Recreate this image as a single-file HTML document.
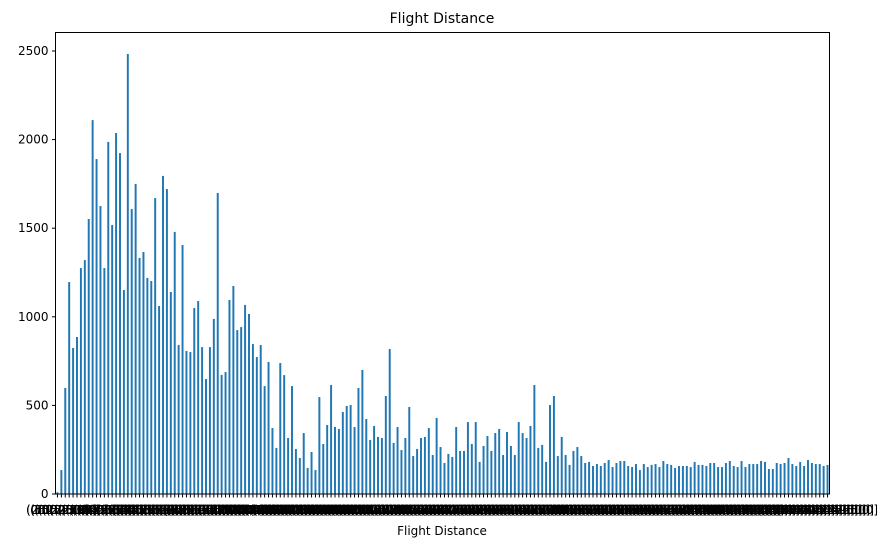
<!DOCTYPE html>
<html><head><meta charset="utf-8"><style>
body{margin:0;background:#fff;font-family:"Liberation Sans","DejaVu Sans",sans-serif}
svg text{font-family:"DejaVu Sans","Liberation Sans",sans-serif}
</style></head><body>
<svg id="chart" width="882" height="547" xmlns="http://www.w3.org/2000/svg">
<rect width="882" height="547" fill="#fff"/>
<text x="442" y="23" font-size="14" text-anchor="middle" fill="#000">Flight Distance</text>
<text x="442" y="535" font-size="12" text-anchor="middle" fill="#000">Flight Distance</text>
<g id="bars"></g><g id="xt"></g><g id="yt"></g>
<rect x="55.5" y="32.5" width="774" height="461.5" fill="none" stroke="#000" stroke-width="1"/>
</svg>
<script>
const values = [10,135,598,1196,824,886,1275,1320,1552,2110,1890,1625,1275,1987,1518,2037,1924,1151,2483,1608,1750,1332,1366,1219,1202,1670,1061,1795,1721,1140,1479,841,1405,807,801,1050,1089,829,649,829,988,1699,672,688,1095,1174,925,942,1067,1016,
846,773,841,609,745,372,260,739,671,316,609,254,203,344,147,237,135,547,282,389,615,378,367,463,497,502,378,598,700,423,305,384,322,316,553,818,288,378,248,316,491,214,254,316,322,372,220,429,265,
175,226,209,378,243,243,406,282,406,181,271,327,243,344,367,220,350,271,220,406,344,316,384,615,260,277,181,502,553,214,322,220,164,243,265,214,175,181,158,169,158,175,192,152,175,186,186,158,
152,169,135,169,152,164,169,152,186,169,164,147,158,158,158,152,181,164,164,158,175,175,152,152,175,186,158,152,186,152,169,169,169,186,181,141,141,175,169,175,203,169,158,181,158,192,175,169,169,158,164];
const yTicks = [0,500,1000,1500,2000,2500];
const binWidth = 25;
const categories = values.map((v,i)=>'('+(i*binWidth).toFixed(1)+', '+((i+1)*binWidth).toFixed(1)+']');
const NS='http://www.w3.org/2000/svg';
const X0=55.5, X1=829.5, Y0=494, ky=443/2500;
const n=values.length, step=(X1-X0)/n;
function xs(i){return X0+(i+0.5)*step;}
function ys(v){return Y0-v*ky;}
const bars=document.getElementById('bars'), xt=document.getElementById('xt'), yt=document.getElementById('yt');
values.forEach((v,i)=>{
  const r=document.createElementNS(NS,'rect');
  r.setAttribute('x',xs(i)-step*0.25);r.setAttribute('width',step*0.5);
  r.setAttribute('y',ys(v));r.setAttribute('height',Y0-ys(v));r.setAttribute('fill','#1f77b4');
  
  
  bars.appendChild(r);
  const t=document.createElementNS(NS,'line');
  t.setAttribute('x1',xs(i));t.setAttribute('x2',xs(i));t.setAttribute('y1',Y0);t.setAttribute('y2',Y0+3.5);t.setAttribute('stroke','#000');
  
  
  xt.appendChild(t);
  const l=document.createElementNS(NS,'text');
  l.setAttribute('x',xs(i));l.setAttribute('y',514);l.setAttribute('font-size','12');l.setAttribute('text-anchor','middle');
  l.textContent=categories[i];
  
  
  xt.appendChild(l);
});
yTicks.forEach(v=>{
  const t=document.createElementNS(NS,'line');
  t.setAttribute('x1',X0-3.5);t.setAttribute('x2',X0);t.setAttribute('y1',ys(v));t.setAttribute('y2',ys(v));t.setAttribute('stroke','#000');
  
  
  yt.appendChild(t);
  const l=document.createElementNS(NS,'text');
  l.setAttribute('x',X0-7);l.setAttribute('y',ys(v)+4);l.setAttribute('font-size','12');l.setAttribute('text-anchor','end');
  l.textContent=v;
  
  
  yt.appendChild(l);
});
</script>
</body></html>
